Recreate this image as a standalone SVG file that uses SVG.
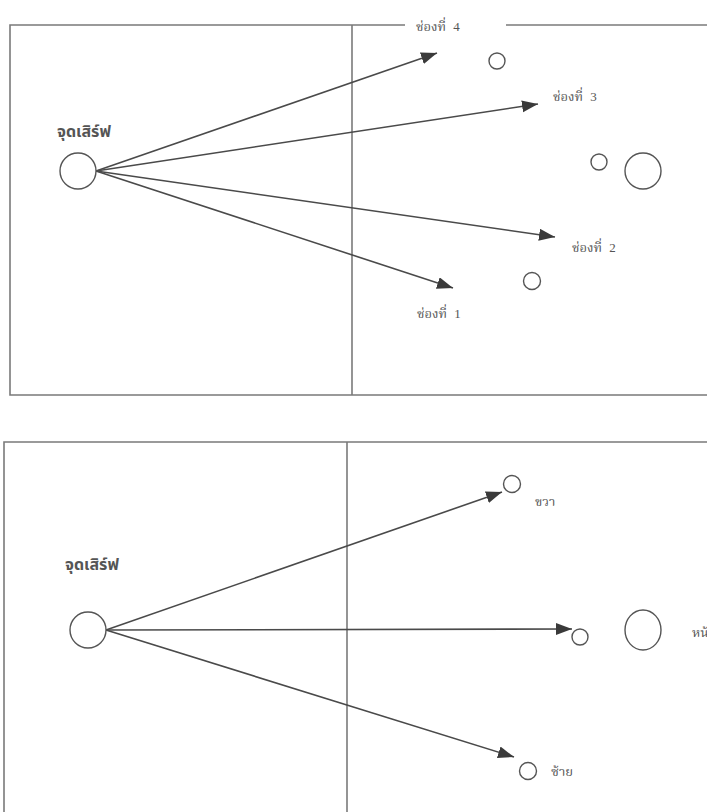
<svg xmlns="http://www.w3.org/2000/svg" width="707" height="812" viewBox="0 0 707 812">
<style>
.frame{fill:none;stroke:#7a7a7a;stroke-width:1.6}
.node{fill:#fff;stroke:#555;stroke-width:1.4}
.arrow{fill:none;stroke:#4a4a4a;stroke-width:1.6;marker-end:url(#ah)}
.lbl{font-family:"Liberation Serif","Noto Serif Thai","Noto Sans Thai",serif;font-size:13px;fill:#555;word-spacing:4px}
.title{font-family:"Liberation Sans","Noto Sans Thai","Noto Sans",sans-serif;font-size:16px;font-weight:bold;fill:#555}
</style>
<defs>
<marker id="ah" markerUnits="userSpaceOnUse" markerWidth="17" markerHeight="13" refX="16" refY="6" orient="auto">
<path d="M0,0 L16,6 L0,12 z" fill="#3a3a3a"/>
</marker>
</defs>
<rect width="707" height="812" fill="#fff"/>
<g id="frames">
<path class="frame" d="M405,25 H10 V395 H710"/>
<path class="frame" d="M506,25 H710"/>
<line class="frame" x1="352" y1="25" x2="352" y2="395"/>
<path class="frame" d="M4,815 V442 H710"/>
<line class="frame" x1="347" y1="442" x2="347" y2="815"/>
</g>
<g id="connectors">
<line class="arrow" x1="96" y1="171" x2="437" y2="53"/>
<line class="arrow" x1="96" y1="171" x2="538" y2="104"/>
<line class="arrow" x1="96" y1="171" x2="555" y2="237"/>
<line class="arrow" x1="96" y1="171" x2="453" y2="288"/>
<line class="arrow" x1="106" y1="630" x2="502" y2="492"/>
<line class="arrow" x1="106" y1="630" x2="572" y2="629"/>
<line class="arrow" x1="106" y1="630" x2="514" y2="757"/>
</g>
<g id="serve-top">
<circle class="node" cx="78" cy="171" r="18"/>
<text class="title" x="57" y="137">จุดเสิร์ฟ</text>
</g>
<g id="slot4">
<text class="lbl" x="416" y="31">ช่องที่ 4</text>
<circle class="node" cx="497" cy="61" r="8"/>
</g>
<g id="slot3">
<text class="lbl" x="553" y="101">ช่องที่ 3</text>
<circle class="node" cx="599" cy="162" r="8"/>
<circle class="node" cx="643" cy="171" r="18"/>
</g>
<g id="slot2">
<text class="lbl" x="572" y="252">ช่องที่ 2</text>
<circle class="node" cx="532" cy="281" r="8.5"/>
</g>
<g id="slot1">
<text class="lbl" x="417" y="318">ช่องที่ 1</text>
</g>
<g id="serve-bottom">
<circle class="node" cx="88" cy="630" r="18"/>
<text class="title" x="65" y="570">จุดเสิร์ฟ</text>
</g>
<g id="right">
<circle class="node" cx="512" cy="484" r="8.5"/>
<text class="lbl" x="535" y="506">ขวา</text>
</g>
<g id="middle">
<circle class="node" cx="580" cy="637" r="8"/>
<ellipse class="node" cx="643" cy="630" rx="18" ry="20"/>
<text class="lbl" x="692" y="637">หน้า</text>
</g>
<g id="left">
<circle class="node" cx="528" cy="771" r="8.5"/>
<text class="lbl" x="551" y="776">ซ้าย</text>
</g>
</svg>
